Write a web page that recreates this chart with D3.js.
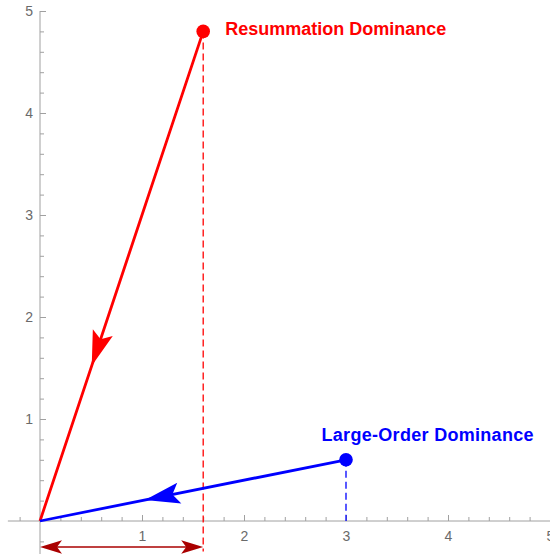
<!DOCTYPE html>
<html>
<head>
<meta charset="utf-8">
<script src="https://cdn.jsdelivr.net/npm/d3@7"></script>
<style>
  html, body { margin: 0; padding: 0; background: #fff; }
  svg { display: block; }
</style>
</head>
<body>
<svg id="chart" width="550" height="554"></svg>
<script>
// ---- data ----
const pointNames = ["Resummation Dominance", "Large-Order Dominance"];
const pointX = [1.6, 3];
const pointY = [4.8, 0.6];
const pointColors = ["#ff0000", "#0000ff"];
const arrowTipFraction = [0.317, 0.343]; // arrowhead tip position measured from origin
const xTickValues = [1, 2, 3, 4, 5];
const xTickLabels = ["1", "2", "3", "4", "5"];
const yTickValues = [1, 2, 3, 4, 5];
const yTickLabels = ["1", "2", "3", "4", "5"];
const widthMarker = [0, 1.6]; // double arrow along the x-axis

// ---- setup ----
const svg = d3.select("#chart");
const x = d3.scaleLinear().domain([0, 5]).range([40, 550]);
const y = d3.scaleLinear().domain([0, 5]).range([521, 11]);
const axisColor = "#a0a0a0";
const labelColor = "#6a6a6a";
const font = "'Liberation Sans', Arial, Helvetica, sans-serif";

const minorX = d3.range(-1, 26).map(i => i * 0.2).filter(v => Math.abs(v) > 1e-9 && Math.abs(v - Math.round(v)) > 1e-6);
const minorY = minorX.slice();

// ---- axes ----
const gx = svg.append("g").attr("transform", `translate(0,${y(0)})`);
gx.append("line").attr("x1", x(-0.315)).attr("x2", x(5)).attr("y1", 0).attr("y2", 0)
  .attr("stroke", axisColor).attr("stroke-width", 1);
const xAxisMajor = d3.axisBottom(x).tickValues(xTickValues)
  .tickFormat((d, i) => xTickLabels[i]).tickSizeInner(-6).tickSizeOuter(0).tickPadding(10);
const gxMaj = gx.append("g").call(xAxisMajor);
const xAxisMinor = d3.axisBottom(x).tickValues(minorX).tickFormat("").tickSizeInner(-4).tickSizeOuter(0);
const gxMin = gx.append("g").call(xAxisMinor);

const gy = svg.append("g").attr("transform", `translate(${x(0)},0)`);
gy.append("line").attr("x1", 0).attr("x2", 0).attr("y1", y(5)).attr("y2", y(-0.33))
  .attr("stroke", axisColor).attr("stroke-width", 1);
const yAxisMajor = d3.axisLeft(y).tickValues(yTickValues)
  .tickFormat((d, i) => yTickLabels[i]).tickSizeInner(-6).tickSizeOuter(0).tickPadding(7);
const gyMaj = gy.append("g").call(yAxisMajor);
const yAxisMinor = d3.axisLeft(y).tickValues(minorY).tickFormat("").tickSizeInner(-4).tickSizeOuter(0);
const gyMin = gy.append("g").call(yAxisMinor);

[gxMaj, gxMin, gyMaj, gyMin].forEach(g => {
  g.attr("font-size", null).attr("font-family", null);
  g.select(".domain").remove();
  g.selectAll(".tick line").attr("stroke", axisColor).attr("stroke-width", 1);
  g.selectAll(".tick text").attr("fill", labelColor)
    .attr("font-family", font).attr("font-size", 14)
    .style("font-family", font).style("font-size", "14px");
});

// ---- helpers ----
function arrowHeadPath(tx, ty, ux, uy, L, W, notch) {
  const vx = -uy, vy = ux;
  const p1 = [tx - ux * L + vx * W, ty - uy * L + vy * W];
  const p2 = [tx - ux * notch, ty - uy * notch];
  const p3 = [tx - ux * L - vx * W, ty - uy * L - vy * W];
  return `M${tx},${ty}L${p1[0]},${p1[1]}L${p2[0]},${p2[1]}L${p3[0]},${p3[1]}Z`;
}

// ---- dashed drop lines ----
svg.append("line")
  .attr("x1", x(pointX[0])).attr("x2", x(pointX[0]))
  .attr("y1", y(pointY[0])).attr("y2", y(-0.3))
  .attr("stroke", pointColors[0]).attr("stroke-width", 1.3).attr("stroke-dasharray", "7,4");
svg.append("line")
  .attr("x1", x(pointX[1])).attr("x2", x(pointX[1]))
  .attr("y1", y(pointY[1])).attr("y2", y(0))
  .attr("stroke", pointColors[1]).attr("stroke-width", 1.3).attr("stroke-dasharray", "7,4");

// ---- main arrows ----
pointX.forEach((px, i) => {
  const sx = x(px), sy = y(pointY[i]);
  const ex = x(0), ey = y(0);
  svg.append("line").attr("x1", sx).attr("y1", sy).attr("x2", ex).attr("y2", ey)
    .attr("stroke", pointColors[i]).attr("stroke-width", 2.8);
  const len = Math.hypot(sx - ex, sy - ey);
  const ux = (ex - sx) / len, uy = (ey - sy) / len;
  const f = arrowTipFraction[i];
  const tx = x(px * f), ty = y(pointY[i] * f);
  svg.append("path").attr("d", arrowHeadPath(tx, ty, ux, uy, 35, 10.5, 28))
    .attr("fill", pointColors[i]);
});

// ---- points ----
pointX.forEach((px, i) => {
  svg.append("circle").attr("cx", x(px)).attr("cy", y(pointY[i])).attr("r", 6.8)
    .attr("fill", pointColors[i]);
});

// ---- labels ----
svg.append("text").attr("x", x(pointX[0]) + 22).attr("y", 35)
  .attr("fill", pointColors[0]).style("font-family", font).style("font-weight", "bold")
  .style("font-size", "18px").text(pointNames[0]);
svg.append("text").attr("x", 321.5).attr("y", 441)
  .attr("fill", pointColors[1]).style("font-family", font).style("font-weight", "bold")
  .style("font-size", "18px").style("letter-spacing", "0.3px").text(pointNames[1]);

// ---- double arrow ----
const dy = 547;
const darkRed = "#aa0000";
const ax1 = x(widthMarker[0]), ax2 = x(widthMarker[1]);
svg.append("line").attr("x1", ax1 + 15).attr("x2", ax2 - 15).attr("y1", dy).attr("y2", dy)
  .attr("stroke", darkRed).attr("stroke-width", 1.6);
svg.append("path").attr("d", arrowHeadPath(ax1, dy, -1, 0, 22, 6.8, 17)).attr("fill", darkRed);
svg.append("path").attr("d", arrowHeadPath(ax2, dy, 1, 0, 22, 6.8, 17)).attr("fill", darkRed);
</script>
</body>
</html>
